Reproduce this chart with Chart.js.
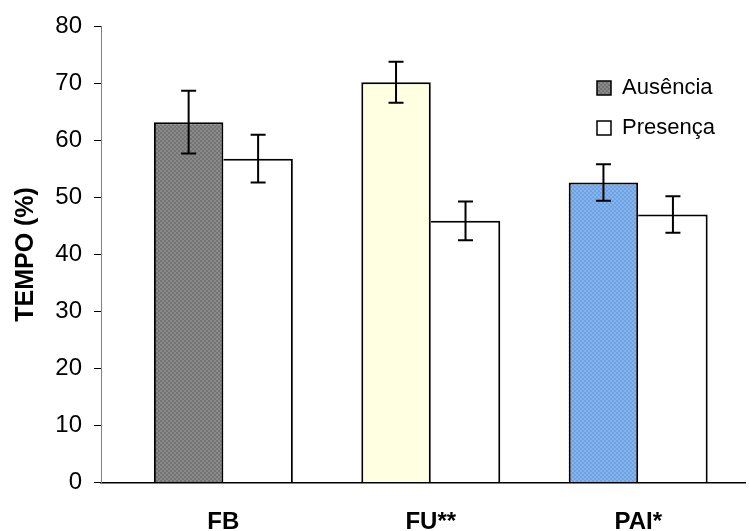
<!DOCTYPE html>
<html>
<head>
<meta charset="utf-8">
<script src="https://cdn.jsdelivr.net/npm/chart.js@4/dist/chart.umd.min.js"></script>
<style>
  html, body { margin: 0; padding: 0; background: #fff; }
  canvas { display: block; }
</style>
</head>
<body>
<canvas id="chart" width="749" height="531"></canvas>
<script>
// Time spent (%) per group, without (Ausência) and with (Presença) the stimulus
const categories = ['FB', 'FU**', 'PAI*'];
const seriesNames = ['Ausência', 'Presença'];
const ausencia = [63.2, 70.2, 52.6];
const ausenciaErr = [5.5, 3.6, 3.2];
const presenca = [56.8, 45.9, 47.0];
const presencaErr = [4.2, 3.4, 3.2];
const yTicks = [0, 10, 20, 30, 40, 50, 60, 70, 80];

const FONT = "'Liberation Sans', Arial, Helvetica, sans-serif";

// small checkered fill, like the dithered Excel fills
function checker(a, b) {
  const c = document.createElement('canvas');
  c.width = 4; c.height = 4;
  const g = c.getContext('2d');
  g.fillStyle = a; g.fillRect(0, 0, 4, 4);
  g.fillStyle = b; g.fillRect(0, 0, 2, 2); g.fillRect(2, 2, 2, 2);
  return g.createPattern(c, 'repeat');
}
const grayFill = checker('#8a8a8a', '#747474');
const yellowFill = '#ffffe1';
const blueFill = checker('#86b3ec', '#6da2e3');

// vertical error bars with caps, drawn on top of the bars
const errorBars = {
  id: 'errorBars',
  afterDatasetsDraw(chart, args, opts) {
    const ctx = chart.ctx;
    const y = chart.scales.y;
    chart.data.datasets.forEach((ds, di) => {
      const meta = chart.getDatasetMeta(di);
      if (meta.hidden || !ds.errors) return;
      meta.data.forEach((bar, i) => {
        const v = ds.data[i].y, e = ds.errors[i];
        const top = y.getPixelForValue(v + e);
        const bot = y.getPixelForValue(v - e);
        ctx.save();
        ctx.strokeStyle = opts.color;
        ctx.lineWidth = opts.width;
        ctx.beginPath();
        ctx.moveTo(bar.x, top); ctx.lineTo(bar.x, bot);
        ctx.moveTo(bar.x - opts.cap, top); ctx.lineTo(bar.x + opts.cap, top);
        ctx.moveTo(bar.x - opts.cap, bot); ctx.lineTo(bar.x + opts.cap, bot);
        ctx.stroke();
        ctx.restore();
      });
    });
  }
};

// lets the legend float inside the plot area instead of taking layout space
const legendSpot = {
  id: 'legendSpot',
  beforeLayout(chart) {
    const lg = chart.legend;
    if (lg && !lg.$spotFit) {
      const fit = lg.fit;
      lg.fit = function () {
        fit.call(this);
        this.$w = this.width; this.$h = this.height;
        this.width = 0;
      };
      lg.$spotFit = true;
    }
  },
  afterLayout(chart, args, opts) {
    const lg = chart.legend;
    if (!lg) return;
    lg.left = opts.left; lg.top = opts.top;
    lg.width = Math.max(lg.$w, 160); lg.height = lg.$h;
    lg.right = lg.left + lg.width; lg.bottom = lg.top + lg.height;
  }
};

new Chart(document.getElementById('chart'), {
  type: 'bar',
  data: {
    datasets: [
      {
        label: seriesNames[0],
        data: ausencia.map((v, i) => ({ x: i, y: v })),
        errors: ausenciaErr,
        backgroundColor: [grayFill, yellowFill, blueFill],
        borderColor: '#000',
        borderWidth: { top: 2, left: 2, right: 2, bottom: 0 }
      },
      {
        label: seriesNames[1],
        data: presenca.map((v, i) => ({ x: i, y: v })),
        errors: presencaErr,
        backgroundColor: '#ffffff',
        borderColor: '#000',
        borderWidth: { top: 2, left: 0, right: 2, bottom: 0 }
      }
    ]
  },
  options: {
    responsive: false,
    animation: false,
    events: [],
    layout: { padding: { top: 26, right: 4, bottom: 0, left: 0 } },
    datasets: { bar: { categoryPercentage: 0.67, barPercentage: 1 } },
    scales: {
      x: {
        type: 'linear',
        offset: false,
        min: -0.59,
        max: 2.515,
        bounds: 'data',
        afterBuildTicks: s => { s.ticks = categories.map((_, i) => ({ value: i })); },
        afterFit: s => { s.height = 48.5; },
        grid: { display: false, offset: false },
        border: { display: true, color: '#000', width: 1.5 },
        ticks: {
          padding: 17,
          maxRotation: 0,
          autoSkip: false,
          color: '#000',
          font: { family: FONT, size: 24, weight: 'bold' },
          callback: v => categories[v]
        }
      },
      y: {
        min: 0,
        max: 80,
        afterBuildTicks: s => { s.ticks = yTicks.map(v => ({ value: v })); },
        afterFit: s => { s.width = 101; },
        grid: { drawOnChartArea: false, tickLength: 7, tickColor: '#000', tickWidth: 1 },
        border: { display: true, color: '#808080', width: 1 },
        ticks: {
          padding: 12,
          color: '#000',
          font: { family: FONT, size: 24 }
        },
        title: {
          display: true,
          text: 'TEMPO (%)',
          color: '#000',
          font: { family: FONT, size: 25, weight: 'bold' },
          padding: { top: 11, bottom: 0 }
        }
      }
    },
    plugins: {
      tooltip: { enabled: false },
      legend: {
        position: 'right',
        align: 'start',
        labels: {
          boxWidth: 14,
          boxHeight: 14,
          padding: 18,
          textAlign: 'left',
          color: '#000',
          font: { family: FONT, size: 22 },
          generateLabels(chart) {
            const items = Chart.defaults.plugins.legend.labels.generateLabels(chart);
            items.forEach(it => {
              if (Array.isArray(it.fillStyle)) it.fillStyle = it.fillStyle[0];
              it.lineWidth = 1.5;
              it.strokeStyle = '#000';
            });
            return items;
          }
        }
      },
      legendSpot: { left: 579, top: 59 },
      errorBars: { color: '#000', width: 2, cap: 7.5 }
    }
  },
  plugins: [legendSpot, errorBars]
});
</script>
</body>
</html>
